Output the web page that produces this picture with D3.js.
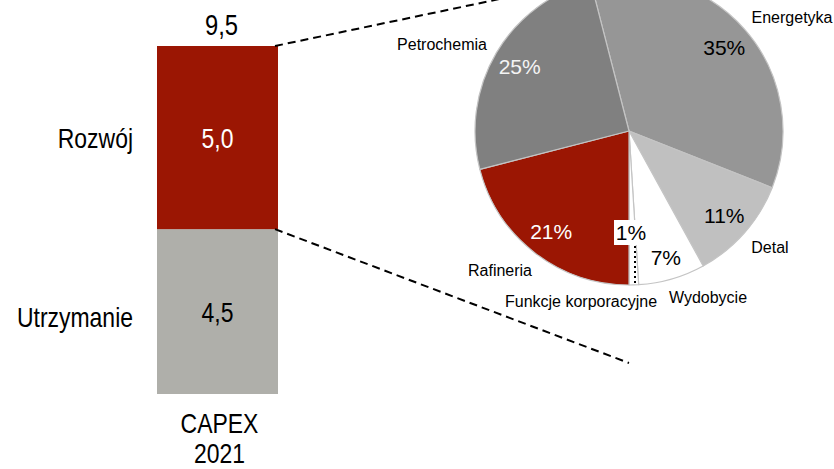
<!DOCTYPE html>
<html>
<head>
<meta charset="utf-8">
<script src="https://cdn.jsdelivr.net/npm/d3@7/dist/d3.min.js"></script>
<style>
  html, body { margin: 0; padding: 0; background: #fff; }
  svg { display: block; }
</style>
</head>
<body>
<svg id="chart" width="834" height="469"></svg>
<script>
// CAPEX 2021 split (bln PLN)
const barCategories = ["CAPEX 2021"];
const barSeries = ["Utrzymanie", "Rozwój"];
const utrzymanieValues = [4.5];
const rozwojValues = [5.0];
const barTotals = [9.5];

// Development CAPEX by segment (share, %)
const segments = ["Energetyka", "Detal", "Wydobycie", "Funkcje korporacyjne", "Rafineria", "Petrochemia"];
const segmentShares = [35, 11, 7, 1, 21, 25];

const fmt = v => d3.format(".1f")(v).replace(".", ",");

const svg = d3.select("#chart");
const sans = "'Liberation Sans', Arial, sans-serif";
const squeeze = 0.82; // condensed face for the bar texts

// condensed text helper: the glyphs are narrowed around the anchor point
function narrowText(parent, px, py, str, size, anchor, fill) {
  return parent.append("text")
    .attr("transform", `translate(${px},${py}) scale(${squeeze},1)`)
    .attr("text-anchor", anchor)
    .attr("font-family", sans).attr("font-size", size)
    .attr("fill", fill || "#000")
    .text(str);
}

// ---- stacked bar ----
const x = d3.scaleBand().domain(barCategories).range([157, 278]).padding(0);
const y = d3.scaleLinear().domain([0, 9.5]).range([394, 46]);

const stackRows = barCategories.map((c, i) => ({
  cat: c, "Utrzymanie": utrzymanieValues[i], "Rozwój": rozwojValues[i]
}));
const stacked = d3.stack().keys(barSeries)(stackRows);
const barColor = d3.scaleOrdinal().domain(barSeries).range(["#afafaa", "#9b1603"]);
const valueColor = d3.scaleOrdinal().domain(barSeries).range(["#000000", "#ffffff"]);

const barG = svg.append("g");
stacked.forEach(s => {
  s.forEach(p => {
    const cx0 = x(p.data.cat) + x.bandwidth() / 2;
    barG.append("rect")
      .attr("x", x(p.data.cat))
      .attr("width", x.bandwidth())
      .attr("y", y(p[1]))
      .attr("height", y(p[0]) - y(p[1]))
      .attr("fill", barColor(s.key));
    const midY = (y(p[0]) + y(p[1])) / 2;
    // value inside the segment
    narrowText(barG, cx0, midY + 10, fmt(p[1] - p[0]), 28, "middle", valueColor(s.key));
    // series name to the left
    narrowText(barG, 133, midY + 10 + (s.key === "Utrzymanie" ? 5 : 0), s.key, 28, "end");
  });
});

barCategories.forEach((c, i) => {
  const cx0 = x(c) + x.bandwidth() / 2;
  // total above the bar
  narrowText(barG, cx0 + 4, y(barTotals[i]) - 11, fmt(barTotals[i]), 29, "middle");
  // category label on two lines
  c.split(" ").forEach((w, j) => narrowText(barG, cx0 + 2, 433 + j * 30, w, 28, "middle"));
});

// ---- pie ----
const cx = 629, cy = 131, r = 154;
const pieColor = d3.scaleOrdinal().domain(segments)
  .range(["#969696", "#c0c0c0", "#ffffff", "#ffffff", "#9b1603", "#808080"]);
const pctColor = d3.scaleOrdinal().domain(segments)
  .range(["#000", "#000", "#000", "#000", "#fff", "#f4f4f4"]);

// the Rafineria slice starts straight down, so the ring begins 14.4° before 12 o'clock
const start = -(segmentShares[0] + segmentShares[1] + segmentShares[2] + segmentShares[3] - 50) / 100 * Math.PI * 2;
const pie = d3.pie().sort(null).value(d => d.v)
  .startAngle(start).endAngle(start + Math.PI * 2);
const arcs = pie(segments.map((s, i) => ({ name: s, v: segmentShares[i] })));
const arc = d3.arc().innerRadius(0).outerRadius(r);
const labelArc = d3.arc().innerRadius(127).outerRadius(127);

// connector lines from the bar to the pie
const conn = svg.append("g").attr("stroke", "#000").attr("stroke-width", 2)
  .attr("stroke-dasharray", "8,5").attr("fill", "none");
conn.append("line")
  .attr("x1", x.range()[1] - 3).attr("y1", y(9.5))
  .attr("x2", cx).attr("y2", cy - r - 5);
conn.append("line")
  .attr("x1", x.range()[1] - 3).attr("y1", y(4.5))
  .attr("x2", cx).attr("y2", cy + r + 78);

const pg = svg.append("g").attr("transform", `translate(${cx},${cy})`);
pg.selectAll("path").data(arcs).join("path")
  .attr("d", arc)
  .attr("fill", d => pieColor(d.data.name))
  .attr("stroke", "#c4c4c4").attr("stroke-width", 1.2)
  .attr("stroke-linejoin", "round");

// percentage labels
const big = arcs.filter(d => d.data.v > 2);
pg.selectAll("text.pct").data(big).join("text")
  .attr("class", "pct")
  .attr("transform", d => {
    const c = labelArc.centroid(d);
    const k = d.data.name === "Wydobycie" ? 132 / 127 : 1;
    return `translate(${c[0] * k},${c[1] * k})`;
  })
  .attr("dy", "0.36em")
  .attr("text-anchor", "middle")
  .attr("font-family", sans).attr("font-size", 21)
  .attr("fill", d => pctColor(d.data.name))
  .text(d => d.data.v + "%");

// small slice: boxed label with a dotted leader
const small = arcs.filter(d => d.data.v <= 2);
small.forEach(d => {
  const lx = 2, ly = 101;
  pg.append("rect").attr("x", lx - 17).attr("y", ly - 12).attr("width", 34).attr("height", 25)
    .attr("fill", "#fff");
  const mid = (d.startAngle + d.endAngle) / 2;
  pg.append("line")
    .attr("x1", 6).attr("y1", ly + 14)
    .attr("x2", 6).attr("y2", -Math.cos(mid) * (r - 2))
    .attr("stroke", "#000").attr("stroke-width", 2).attr("stroke-dasharray", "2,3");
  pg.append("text")
    .attr("x", lx).attr("y", ly).attr("dy", "0.36em")
    .attr("text-anchor", "middle")
    .attr("font-family", sans).attr("font-size", 21)
    .text(d.data.v + "%");
});

// segment names around the pie (offsets from the pie centre)
const nameOffset = {
  "Energetyka": [163, -114],
  "Detal": [141, 116],
  "Wydobycie": [79, 166],
  "Funkcje korporacyjne": [-48, 170],
  "Rafineria": [-129, 139],
  "Petrochemia": [-187, -87]
};
pg.selectAll("text.name").data(arcs).join("text")
  .attr("class", "name")
  .attr("x", d => nameOffset[d.data.name][0])
  .attr("y", d => nameOffset[d.data.name][1])
  .attr("dy", "0.36em")
  .attr("text-anchor", "middle")
  .attr("font-family", sans).attr("font-size", 16)
  .attr("fill", "#000")
  .text(d => d.data.name);
</script>
</body>
</html>
